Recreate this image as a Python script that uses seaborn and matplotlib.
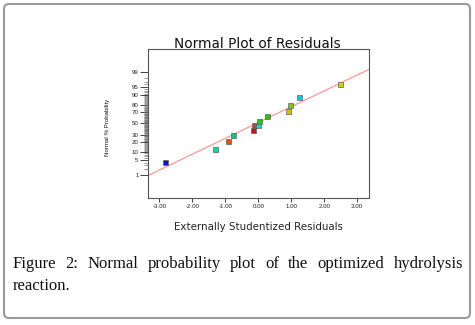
import numpy as np
import seaborn as sns
import matplotlib.pyplot as plt
from matplotlib.patches import FancyBboxPatch
from statistics import NormalDist

# residuos estudentizados e probabilidade normal (%)
residuos = [-2.81, -1.29, -0.90, -0.76, -0.14, -0.13, 0.00, 0.04, 0.27, 0.93, 0.99, 1.26, 2.50]
prob_pct = [4.1, 12.3, 20.6, 29.0, 37.0, 46.0, 46.0, 54.0, 62.0, 71.0, 79.0, 88.0, 96.0]
cores = ['#1010c8', '#10d890', '#e05010', '#10c878', '#d01010', '#b04848', '#10d0d0',
         '#10d010', '#30c010', '#d0c010', '#80c810', '#10c8e0', '#c8d010']
pontos = [f'p{i}' for i in range(len(residuos))]

# reta de referencia
reta_x = [-3.34, 3.37]
reta_pct = [1.0, 99.25]

y_ticks = [1, 5, 10, 20, 30, 50, 70, 80, 90, 95, 99]
x_ticks = [-3, -2, -1, 0, 1, 2, 3]

titulo = 'Normal Plot of Residuals'
x_label = 'Externally Studentized Residuals'
y_label = 'Normal % Probability'
legenda_l1 = 'Figure 2: Normal probability plot of the optimized hydrolysis'
legenda_l2 = 'reaction.'

nd = NormalDist()
_inv = np.vectorize(nd.inv_cdf, otypes=[float])
_cdf = np.vectorize(nd.cdf, otypes=[float])


def para_z(p):
    p = np.clip(np.asarray(p, dtype=float) / 100.0, 1e-12, 1 - 1e-12)
    return _inv(p)


def para_pct(z):
    return _cdf(np.asarray(z, dtype=float)) * 100.0


sns.set_style('white')
plt.rcParams['font.family'] = ['Liberation Sans', 'DejaVu Sans']

fig = plt.figure(figsize=(4.75, 3.25), dpi=100)
ax = fig.add_axes([148.3 / 475, 1 - 197.5 / 325, 221 / 475, 148.5 / 325])

ax.set_yscale('function', functions=(para_z, para_pct))

sns.lineplot(x=reta_x, y=reta_pct, color='#ff8c8c', lw=0.8, ax=ax)
sns.scatterplot(x=residuos, y=prob_pct, hue=pontos, palette=cores, marker='s', s=13,
                edgecolor='#606060', linewidth=0.5, legend=False, ax=ax, zorder=3)

ax.set_xlim(-3.34, 3.37)
ax.set_ylim(para_pct(-3.32), para_pct(3.34))

ax.set_xticks(x_ticks)
ax.set_xticklabels([f'{v:.2f}' for v in x_ticks])
ax.set_yticks(y_ticks)
ax.set_yticklabels([str(v) for v in y_ticks])
ax.set_yticks(list(range(1, 100)), minor=True)

ax.tick_params(axis='x', which='major', direction='out', length=3, width=0.6,
               pad=1.5, labelsize=4.4, colors='#222222', bottom=True)
ax.tick_params(axis='y', which='major', direction='out', length=6, width=0.6,
               pad=1, labelsize=4.4, colors='#222222', left=True)
ax.tick_params(axis='y', which='minor', direction='out', length=3.2, width=0.5,
               color='#707070', left=True)

for s in ax.spines.values():
    s.set_color('#555555')
    s.set_linewidth(0.8)

ax.set_xlabel('')
ax.set_ylabel('')

fig.text(257 / 475, 1 - 44 / 325, titulo, ha='center', va='center', fontsize=9.8,
         family=['DejaVu Sans'], color='#111111')
fig.text(258 / 475, 1 - 227.5 / 325, x_label, ha='center', va='center', fontsize=7.4,
         family=['DejaVu Sans'], color='#222222')
fig.text(108 / 475, 1 - 127 / 325, y_label, ha='center', va='center', rotation=90,
         fontsize=4.4, family=['Liberation Sans'], color='#111111')

# legenda justificada (primeira linha) como na revista
x_esq, x_dir = 12.7 / 475, 463 / 475
y1, y2 = 1 - 268 / 325, 1 - 290 / 325
fonte_leg = dict(fontsize=12, family=['Liberation Serif', 'DejaVu Serif'], color='#111111',
                 va='baseline', ha='left')
palavras = legenda_l1.split(' ')
textos = [fig.text(0, y1, w, **fonte_leg) for w in palavras]
fig.canvas.draw()
r = fig.canvas.get_renderer()
larguras = [t.get_window_extent(r).width / fig.bbox.width for t in textos]
folga = (x_dir - x_esq - sum(larguras)) / (len(palavras) - 1)
pos = x_esq
for t, w in zip(textos, larguras):
    t.set_x(pos)
    pos += w + folga
fig.text(x_esq, y2, legenda_l2, **fonte_leg)

# moldura arredondada
moldura = FancyBboxPatch((0.04, 0.07), 4.66, 3.14, boxstyle='round,pad=0,rounding_size=0.05',
                         transform=fig.dpi_scale_trans, fill=False, edgecolor='#9a9a9a', lw=1.5)
fig.patches.append(moldura)

plt.savefig('out.png', dpi=100)
